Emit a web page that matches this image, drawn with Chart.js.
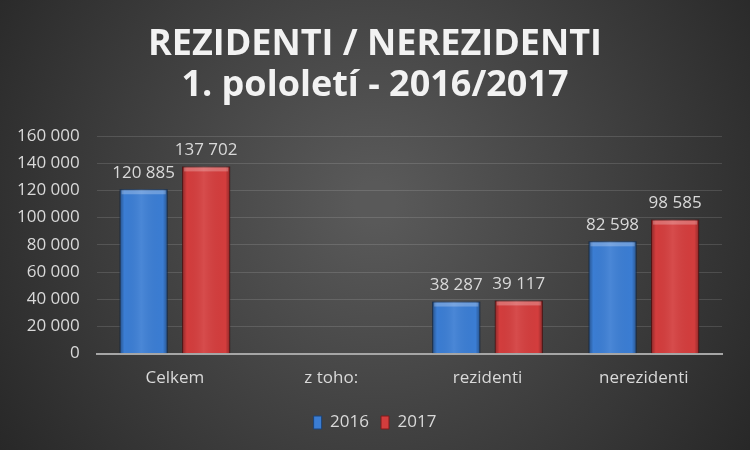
<!DOCTYPE html>
<html>
<head>
<meta charset="utf-8">
<script src="https://cdn.jsdelivr.net/npm/chart.js@4"></script>
<style>
  html, body { margin: 0; padding: 0; background: #333; }
  #wrap { width: 750px; height: 450px; }
</style>
</head>
<body>
<div id="wrap"><canvas id="chart" width="750" height="450"></canvas></div>
<script>
// chart data
const categories = ['Celkem', 'z toho:', 'rezidenti', 'nerezidenti'];
const values2016 = [120885, null, 38287, 82598];
const values2017 = [137702, null, 39117, 98585];
const seriesNames = ['2016', '2017'];
const titleLines = ['REZIDENTI / NEREZIDENTI', '1. pololetí - 2016/2017'];

// 120885 -> "120 885"
const fmt = (v) => String(v).replace(/\B(?=(\d{3})+(?!\d))/g, ' ');

// dark radial background
const bgPlugin = {
  id: 'bg',
  beforeDraw(chart) {
    const { ctx, width, height } = chart;
    const g = ctx.createRadialGradient(width / 2, height * 0.45, 20, width / 2, height * 0.45, width * 0.62);
    g.addColorStop(0, '#595959');
    g.addColorStop(1, '#262626');
    ctx.save();
    ctx.fillStyle = g;
    ctx.fillRect(0, 0, width, height);
    ctx.restore();
  }
};

// bevel shading over the bars + value labels above them
const barExtras = {
  id: 'barExtras',
  afterDatasetsDraw(chart) {
    const { ctx } = chart;
    ctx.save();
    chart.data.datasets.forEach((ds, i) => {
      chart.getDatasetMeta(i).data.forEach((bar, j) => {
        if (ds.data[j] == null) return;
        const x0 = bar.x - bar.width / 2, w = bar.width;
        const h = bar.base - bar.y;
        const g = ctx.createLinearGradient(x0, 0, x0 + w, 0);
        g.addColorStop(0, 'rgba(0,0,0,0.35)');
        g.addColorStop(0.1, 'rgba(0,0,0,0)');
        g.addColorStop(0.45, 'rgba(255,255,255,0.08)');
        g.addColorStop(0.9, 'rgba(0,0,0,0)');
        g.addColorStop(1, 'rgba(0,0,0,0.35)');
        ctx.fillStyle = g;
        ctx.fillRect(x0, bar.y, w, h);
        // lighter top edge
        ctx.fillStyle = 'rgba(255,255,255,0.25)';
        ctx.fillRect(x0 + 2, bar.y + 1, w - 4, 4);
      });
    });
    ctx.font = '17px "Open Sans", sans-serif';
    ctx.fillStyle = '#d9d9d9';
    ctx.textAlign = 'center';
    ctx.textBaseline = 'bottom';
    chart.data.datasets.forEach((ds, i) => {
      chart.getDatasetMeta(i).data.forEach((bar, j) => {
        if (ds.data[j] == null) return;
        ctx.fillText(fmt(ds.data[j]), bar.x, bar.y - 8);
      });
    });
    ctx.restore();
  }
};

const ctx = document.getElementById('chart').getContext('2d');
new Chart(ctx, {
  type: 'bar',
  data: {
    labels: categories,
    datasets: [
      {
        label: seriesNames[0],
        data: values2016,
        backgroundColor: '#3b7dd3',
        borderColor: '#1d4478',
        borderWidth: 1,
        categoryPercentage: 0.8,
        barPercentage: 0.77
      },
      {
        label: seriesNames[1],
        data: values2017,
        backgroundColor: '#d33d3d',
        borderColor: '#7a1c1c',
        borderWidth: 1,
        categoryPercentage: 0.8,
        barPercentage: 0.77
      }
    ]
  },
  options: {
    responsive: false,
    animation: false,
    layout: { padding: { left: 0, right: 0, top: 0, bottom: 9 } },
    plugins: {
      title: {
        display: true,
        text: titleLines,
        color: '#f2f2f2',
        font: { family: '"Open Sans", sans-serif', size: 36, weight: 'bold', lineHeight: 1.14 },
        padding: { top: 24, bottom: 30 }
      },
      legend: {
        position: 'bottom',
        labels: {
          color: '#d9d9d9',
          font: { family: '"Open Sans", sans-serif', size: 17 },
          boxWidth: 8,
          boxHeight: 13,
          padding: 12
        }
      },
      tooltip: { enabled: false }
    },
    scales: {
      x: {
        grid: { display: false, drawTicks: false },
        border: { color: '#a6a6a6', width: 2 },
        ticks: {
          color: '#d9d9d9',
          font: { family: '"Open Sans", sans-serif', size: 17 },
          padding: 14
        }
      },
      y: {
        min: 0,
        max: 160000,
        grid: { color: 'rgba(255,255,255,0.13)', drawTicks: false },
        border: { display: false },
        ticks: {
          stepSize: 20000,
          color: '#d9d9d9',
          font: { family: '"Open Sans", sans-serif', size: 17 },
          padding: 17,
          callback: (v) => fmt(v)
        }
      },
      // empty right axis, only keeps space on the right of the plot
      yRight: {
        type: 'linear',
        position: 'right',
        grid: { display: false },
        border: { display: false },
        ticks: { display: false },
        afterFit(scale) { scale.width = 28; }
      }
    }
  },
  plugins: [bgPlugin, barExtras]
});
</script>
</body>
</html>
